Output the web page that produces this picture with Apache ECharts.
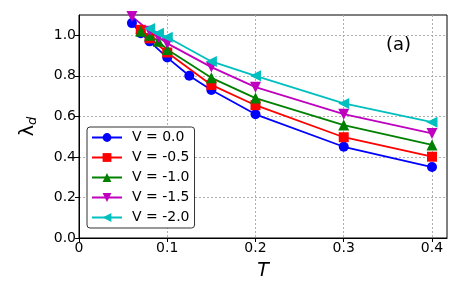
<!DOCTYPE html>
<html><head><meta charset="utf-8">
<script src="https://cdn.jsdelivr.net/npm/echarts@6/dist/echarts.min.js"></script>
<style>html,body{margin:0;padding:0;background:#fff}#c{width:463px;height:300px}</style>
</head><body><div id="c"></div>
<script>
const seriesNames = ['V = 0.0', 'V = -0.5', 'V = -1.0', 'V = -1.5', 'V = -2.0'];
const T_v00 = [0.06, 0.07, 0.08, 0.10, 0.125, 0.15, 0.20, 0.30, 0.40];
const L_v00 = [1.06, 1.01, 0.97, 0.89, 0.80, 0.73, 0.61, 0.45, 0.35];
const T_v05 = [0.07, 0.08, 0.10, 0.15, 0.20, 0.30, 0.40];
const L_v05 = [1.027, 0.985, 0.915, 0.755, 0.655, 0.497, 0.401];
const T_v10 = [0.07, 0.08, 0.09, 0.10, 0.15, 0.20, 0.30, 0.40];
const L_v10 = [1.02, 1.00, 0.97, 0.93, 0.79, 0.69, 0.557, 0.459];
const T_v15 = [0.06, 0.08, 0.09, 0.10, 0.15, 0.20, 0.30, 0.40];
const L_v15 = [1.093, 1.02, 0.99, 0.96, 0.843, 0.744, 0.611, 0.516];
const T_v20 = [0.08, 0.09, 0.10, 0.15, 0.20, 0.30, 0.40];
const L_v20 = [1.033, 1.01, 0.99, 0.871, 0.80, 0.664, 0.571];
const xTicks = [0, 0.1, 0.2, 0.3, 0.4];
const yTicks = [0.0, 0.2, 0.4, 0.6, 0.8, 1.0];

const colors = ['#0000ff', '#ff0000', '#008000', '#bf00bf', '#00bfbf'];
const symbols = ['circle', 'rect', 'triangle', 'path://M0,0 L10,0 L5,9 Z', 'path://M0,5 L9,0 L9,10 Z'];
const sizes = [10, 10, 11, 11, 11];
const Ts = [T_v00, T_v05, T_v10, T_v15, T_v20];
const Ls = [L_v00, L_v05, L_v10, L_v15, L_v20];

const chart = echarts.init(document.getElementById('c'), null, {renderer: 'canvas'});
const font = 'DejaVu Sans';
chart.setOption({
  animation: false,
  textStyle: {fontFamily: font},
  grid: {left: 79, right: 16, top: 15, bottom: 62, show: true, borderColor: '#000', borderWidth: 1, backgroundColor: 'transparent'},
  xAxis: {
    type: 'value', min: 0, max: 0.417, interval: 0.1,
    name: 'T', nameLocation: 'middle', nameGap: 24,
    nameTextStyle: {fontSize: 19, fontStyle: 'italic', color: '#000', fontFamily: font},
    axisLine: {show: true, lineStyle: {color: '#000', width: 1}},
    axisTick: {show: true, length: 4, lineStyle: {color: '#000'}, customValues: xTicks},
    axisLabel: {fontSize: 14, color: '#000', margin: 3, customValues: xTicks,
      formatter: v => v === 0 ? '0' : v.toFixed(1)},
    splitLine: {show: true, lineStyle: {color: '#a8a8a8', type: [2, 2], width: 0.9}}
  },
  yAxis: {
    type: 'value', min: 0, max: 1.1, interval: 0.2,
    name: '{l|λ}{s|d}', nameLocation: 'middle', nameGap: 40, nameRotate: 90,
    nameTextStyle: {rich: {
      l: {fontSize: 19, color: '#000', fontFamily: font},
      s: {fontSize: 13, color: '#000', fontStyle: 'italic', fontFamily: font, verticalAlign: 'bottom', padding: [8, 0, 0, 0]}
    }},
    axisLine: {show: true, lineStyle: {color: '#000', width: 1}},
    axisTick: {show: true, length: 4, lineStyle: {color: '#000'}, customValues: yTicks},
    axisLabel: {fontSize: 14, color: '#000', margin: 3, customValues: yTicks,
      formatter: v => v.toFixed(1)},
    splitLine: {show: true, lineStyle: {color: '#a8a8a8', type: [2, 2], width: 0.9}}
  },
  legend: {
    show: true, orient: 'vertical', left: 87, top: 127,
    itemWidth: 30, itemHeight: 11, itemGap: 5,
    backgroundColor: '#fff', borderColor: '#333', borderWidth: 1, borderRadius: 3,
    padding: [3, 5, 3, 4],
    textStyle: {fontSize: 14, color: '#000', fontFamily: font, padding: [0, 0, 0, 5], lineHeight: 15},
    data: seriesNames
  },
  graphic: [{type: 'text', left: 386, top: 36, style: {text: '(a)', fontSize: 18, fill: '#000', fontFamily: font}}],
  series: seriesNames.map((n, i) => ({
    name: n, type: 'line',
    data: Ts[i].map((t, j) => [t, Ls[i][j]]),
    symbol: symbols[i], symbolSize: sizes[i], showAllSymbol: true,
    itemStyle: {color: colors[i]},
    lineStyle: {color: colors[i], width: 1.8}
  }))
});
</script></body></html>
